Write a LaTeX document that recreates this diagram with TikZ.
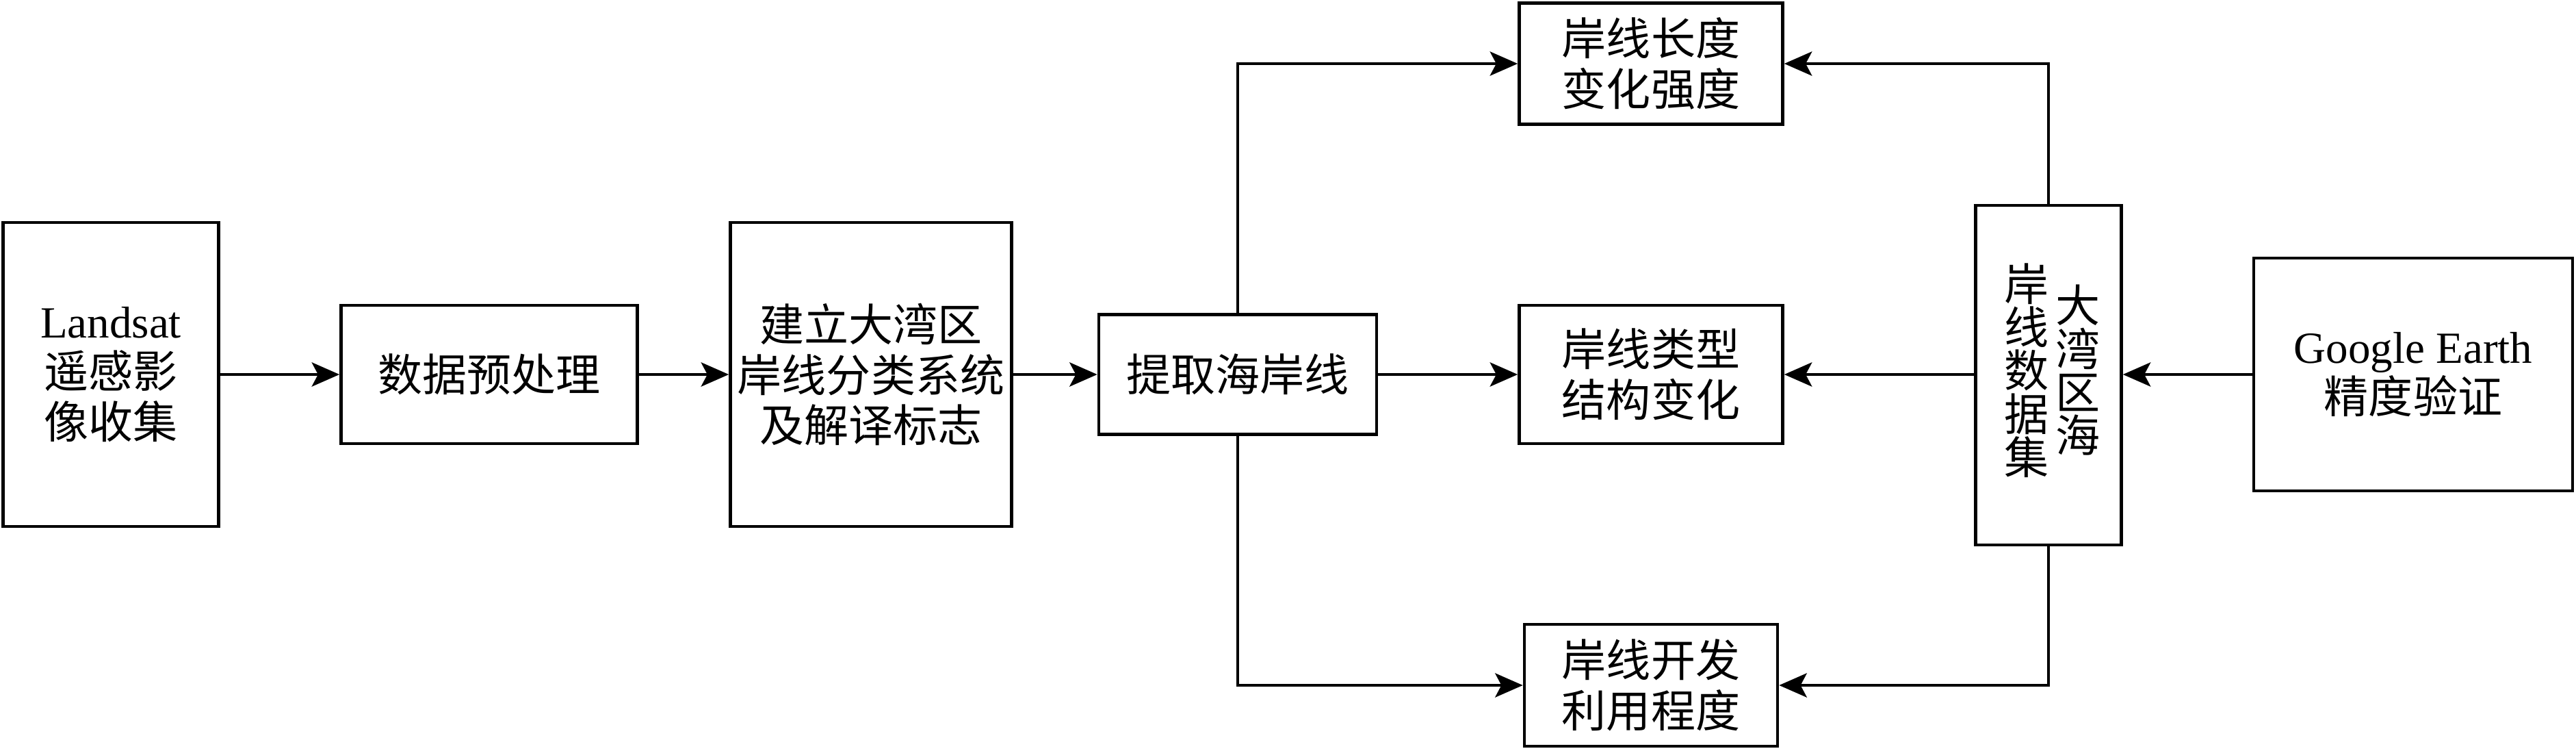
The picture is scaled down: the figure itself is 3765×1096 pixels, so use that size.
\documentclass[tikz,border=0pt]{standalone}
\usepackage{fontspec}
\setmainfont{Liberation Serif}
\newfontfamily\cjk{Noto Sans CJK SC}
\usetikzlibrary{arrows.meta}
\tikzset{
  box/.style={draw, line width=1.25pt, inner sep=0pt, align=center, font=\fontsize{18.5}{21}\selectfont},
  conn/.style={line width=1.25pt, -{Stealth[length=11.5pt,width=10pt,inset=2.6pt]}},
  vcol/.style={align=center, inner sep=0pt, font=\fontsize{18.5}{18}\selectfont},
}
\begin{document}
\begin{tikzpicture}[x=0.01cm,y=-0.01cm]
\useasboundingbox (0,0) rectangle (3765,1096);
\node[box, minimum width=3.15cm, minimum height=4.44cm] (landsat) at (162,547) {\fontsize{18.5}{23.5}\selectfont Landsat\\\cjk 遥感影\\\cjk 像收集};
\node[box, minimum width=4.33cm, minimum height=2.02cm] (pre) at (715,547) {\cjk 数据预处理};
\node[box, minimum width=4.11cm, minimum height=4.44cm] (build) at (1273,547) {\fontsize{18.5}{23}\selectfont\cjk 建立大湾区\\\cjk 岸线分类系统\\\cjk 及解译标志};
\node[box, minimum width=4.06cm, minimum height=1.75cm] (extract) at (1809,547) {\cjk 提取海岸线};
\node[box, minimum width=3.85cm, minimum height=1.77cm] (len) at (2413,93) {\cjk 岸线长度\\\cjk 变化强度};
\node[box, minimum width=3.85cm, minimum height=2.02cm] (type) at (2413,547) {\cjk 岸线类型\\\cjk 结构变化};
\node[box, minimum width=3.70cm, minimum height=1.78cm] (dev) at (2413,1001) {\cjk 岸线开发\\\cjk 利用程度};
\node[box, minimum width=2.13cm, minimum height=4.96cm] (data) at (2994,548) {};
\node[vcol] (c1) at (3037,541) {\cjk 大\\\cjk 湾\\\cjk 区\\\cjk 海};
\node[vcol] (c2) at (2962,541) {\cjk 岸\\\cjk 线\\\cjk 数\\\cjk 据\\\cjk 集};
\node[box, minimum width=4.66cm, minimum height=3.40cm] (ge) at (3527,547) {Google Earth\\\cjk 精度验证};
\draw[conn] (landsat) -- (pre);
\draw[conn] (pre) -- (build);
\draw[conn] (build) -- (extract);
\draw[conn] (extract) -- (type);
\draw[conn] (data.west |- type) -- (type);
\draw[conn] (ge) -- (data.east |- ge);
\draw[conn] (extract.north) |- (len.west);
\draw[conn] (extract.south) |- (dev.west);
\draw[conn] (data.north) |- (len.east);
\draw[conn] (data.south) |- (dev.east);
\end{tikzpicture}
\end{document}
